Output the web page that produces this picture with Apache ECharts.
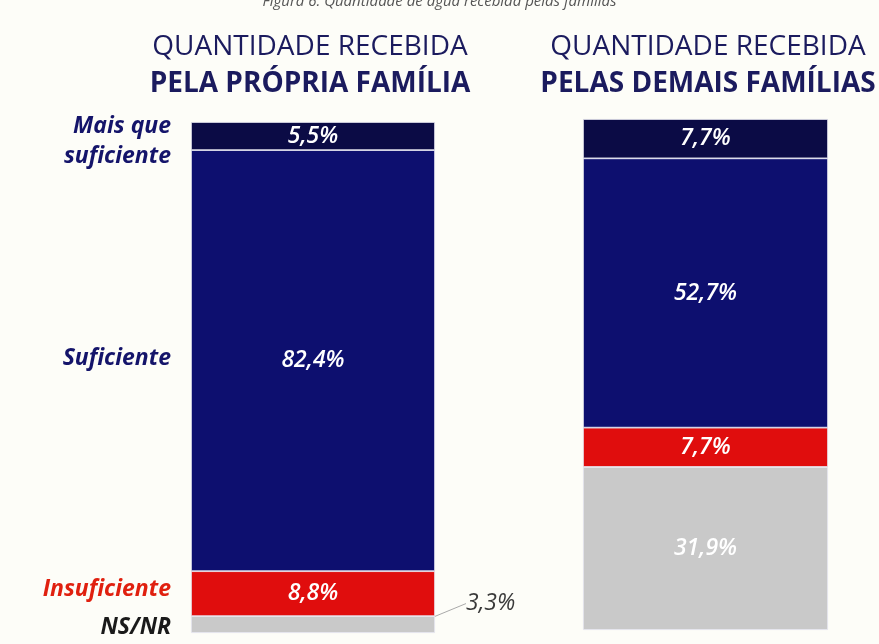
<!DOCTYPE html>
<html>
<head>
<meta charset="utf-8">
<script src="https://cdn.jsdelivr.net/npm/echarts@6/dist/echarts.min.js"></script>
<style>
  html, body { margin: 0; padding: 0; background: #fdfdf8; }
  #chart { width: 879px; height: 644px; }
</style>
</head>
<body>
<div id="chart"></div>
<script>
// categorias, de cima para baixo
const categories = ['Mais que suficiente', 'Suficiente', 'Insuficiente', 'NS/NR']
const categoryLabels = ['Mais que\nsuficiente', 'Suficiente', 'Insuficiente', 'NS/NR']
const propria = [5.5, 82.4, 8.8, 3.3]
const demais = [7.7, 52.7, 7.7, 31.9]
const panelTitles = ['PELA PRÓPRIA FAMÍLIA', 'PELAS DEMAIS FAMÍLIAS']

const colors = ['#0b0b45', '#0d0f6f', '#e00d0d', '#c9c9c9']
const nameColors = ['#14146a', '#14146a', '#e0200f', '#1a1a1a']
const nameOffsets = [[0, 5], [0, -2], [0, -4], [0, 3]]
const font = '"Open Sans", sans-serif'

const fmt = v => v.toFixed(1).replace('.', ',') + '%'

const chart = echarts.init(document.getElementById('chart'))

const series = []
// empilha de baixo para cima: NS/NR primeiro
for (let i = categories.length - 1; i >= 0; i--) {
  ;[propria, demais].forEach((vals, g) => {
    const small = g === 0 && i === 3
    series.push({
      name: categories[i],
      type: 'bar',
      stack: 'v' + g,
      xAxisIndex: g,
      yAxisIndex: g,
      barWidth: '100%',
      itemStyle: { color: colors[i], borderColor: '#e6e6f0', borderWidth: 0.8 },
      label: small ? {
        show: true,
        position: 'right',
        formatter: p => fmt(p.value),
        color: '#3a3a3a',
        fontFamily: font,
        fontStyle: 'italic',
        fontSize: 23
      } : {
        show: true,
        position: 'inside',
        formatter: p => fmt(p.value),
        color: '#fff',
        fontFamily: font,
        fontStyle: 'italic',
        fontWeight: 600,
        fontSize: 23
      },
      labelLayout: small ? { dx: 26, dy: -21 } : undefined,
      labelLine: small ? { show: true, lineStyle: { color: '#aaa', width: 1 } } : undefined,
      data: [vals[i]]
    })
  })
  // nomes das categorias ao lado da primeira coluna
  series.push({
    name: 'rotulo ' + categories[i],
    type: 'bar',
    stack: 'names',
    xAxisIndex: 0,
    yAxisIndex: 0,
    barWidth: '100%',
    barGap: '-100%',
    itemStyle: { color: 'transparent' },
    label: {
      show: true,
      position: 'left',
      distance: 20,
      offset: nameOffsets[i],
      formatter: categoryLabels[i],
      color: nameColors[i],
      fontFamily: font,
      fontStyle: 'italic',
      fontWeight: 'bold',
      fontSize: 23,
      lineHeight: 30,
      align: 'right'
    },
    silent: true,
    data: [propria[i]]
  })
}

const titleStyle = { fontFamily: font, fontWeight: 'normal', fontSize: 28, color: '#1b1b5e' }
const subStyle = { fontFamily: font, fontWeight: 'bold', fontSize: 28, color: '#1b1b5e' }

chart.setOption({
  backgroundColor: '#fdfdf8',
  animation: false,
  title: [
    {
      text: 'Figura 6. Quantidade de água recebida pelas famílias',
      left: 'center',
      top: -11,
      textStyle: { fontFamily: font, fontStyle: 'italic', fontWeight: 'normal', fontSize: 15, color: '#555' }
    },
    {
      text: 'QUANTIDADE RECEBIDA',
      subtext: panelTitles[0],
      left: 305,
      textAlign: 'center',
      top: 28,
      itemGap: 9,
      textStyle: titleStyle,
      subtextStyle: subStyle
    },
    {
      text: 'QUANTIDADE RECEBIDA',
      subtext: panelTitles[1],
      left: 703,
      textAlign: 'center',
      top: 28,
      itemGap: 9,
      textStyle: titleStyle,
      subtextStyle: subStyle
    }
  ],
  grid: [
    { left: 191, width: 244, top: 122, height: 511 },
    { left: 583, width: 245, top: 119, height: 511 }
  ],
  xAxis: [
    { type: 'category', gridIndex: 0, data: [panelTitles[0]], show: false },
    { type: 'category', gridIndex: 1, data: [panelTitles[1]], show: false }
  ],
  yAxis: [
    { type: 'value', gridIndex: 0, min: 0, max: 100, show: false },
    { type: 'value', gridIndex: 1, min: 0, max: 100, show: false }
  ],
  series: series
})
</script>
</body>
</html>
